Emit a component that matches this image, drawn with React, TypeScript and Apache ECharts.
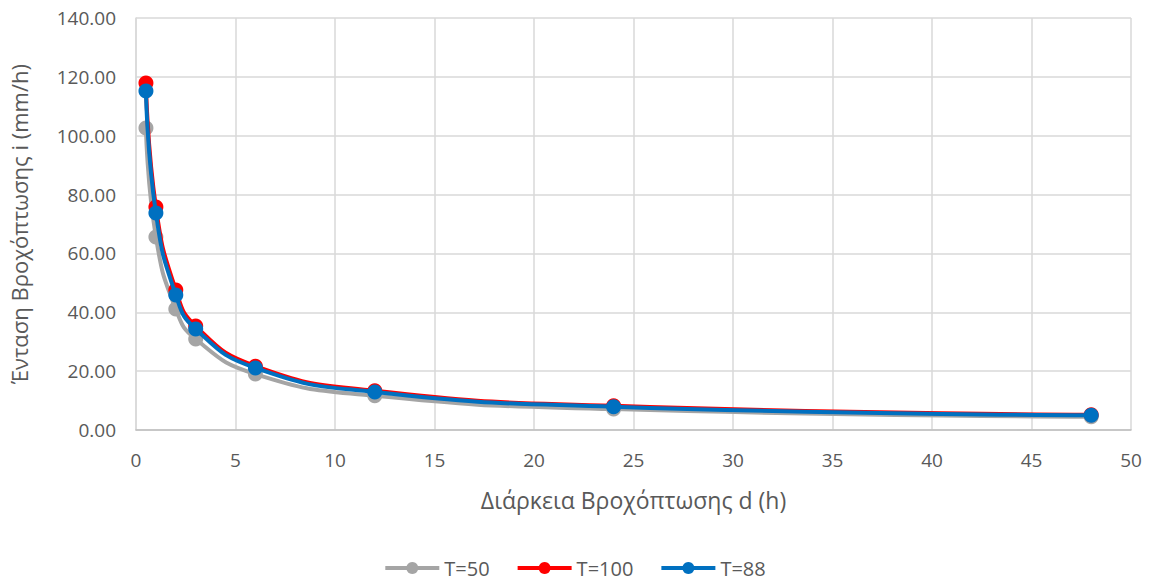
import React, { useEffect, useRef } from "react";
import * as echarts from "echarts";

// Rainfall duration d (h)
const durations = [0.5, 1, 2, 3, 6, 12, 24, 48];
// Rainfall intensity i (mm/h) per return period
const intensityT50 = [102.6, 65.6, 41.1, 30.9, 19.0, 11.6, 7.1, 4.5];
const intensityT100 = [117.9, 75.8, 47.6, 35.3, 21.7, 13.3, 8.2, 5.2];
const intensityT88 = [115.2, 73.7, 45.9, 34.3, 21.1, 12.9, 7.9, 5.0];

const seriesNames = ["T=50", "T=100", "T=88"];
const seriesColors = ["#A5A5A5", "#FF0000", "#0070C0"];

const FONT = "'Open Sans', 'Noto Sans', sans-serif";
const TEXT = "#595959";

export default function App() {
  const ref = useRef<HTMLDivElement>(null);

  useEffect(() => {
    if (!ref.current) return;
    const chart = echarts.init(ref.current, null, { renderer: "svg" });
    const values = [intensityT50, intensityT100, intensityT88];
    chart.setOption({
      animation: false,
      backgroundColor: "#FFFFFF",
      textStyle: { fontFamily: FONT },
      grid: { left: 132, right: 18, top: 18, bottom: 155, containLabel: false },
      legend: {
        bottom: 2,
        left: "center",
        itemWidth: 54,
        itemHeight: 15,
        itemGap: 26,
        lineStyle: { width: 4 },
        textStyle: { color: TEXT, fontSize: 20, fontFamily: FONT },
        data: seriesNames,
      },
      xAxis: {
        type: "value",
        min: 0,
        max: 50,
        interval: 5,
        name: "Διάρκεια Βροχόπτωσης d (h)",
        nameLocation: "middle",
        nameGap: 58,
        nameTextStyle: { color: TEXT, fontSize: 23, fontFamily: FONT },
        axisLine: { show: true, lineStyle: { color: "#BFBFBF", width: 1.5 } },
        axisTick: { show: false },
        axisLabel: { color: TEXT, fontSize: 19, margin: 20, fontFamily: FONT },
        splitLine: { show: true, lineStyle: { color: "#D9D9D9", width: 1.5 } },
      },
      yAxis: {
        type: "value",
        min: 0,
        max: 140,
        interval: 20,
        name: "Ένταση Βροχόπτωσης i (mm/h)",
        nameLocation: "middle",
        nameGap: 106,
        nameTextStyle: { color: TEXT, fontSize: 22, fontFamily: FONT },
        axisLine: { show: true, lineStyle: { color: "#D9D9D9", width: 1.5 } },
        axisTick: { show: false },
        axisLabel: {
          color: TEXT,
          fontSize: 19,
          margin: 20,
          fontFamily: FONT,
          formatter: (v: number) => v.toFixed(2),
        },
        splitLine: { show: true, lineStyle: { color: "#D9D9D9", width: 1.5 } },
      },
      series: seriesNames.map((name, k) => ({
        name,
        type: "line",
        smooth: 0.5,
        symbol: "circle",
        symbolSize: 15,
        data: durations.map((d, i) => [d, values[k][i]]),
        lineStyle: { color: seriesColors[k], width: 4 },
        itemStyle: { color: seriesColors[k] },
        z: 2 + k,
      })),
    });
    return () => chart.dispose();
  }, []);

  return (
    <div
      ref={ref}
      style={{ position: "absolute", left: 0, top: 0, width: 1149, height: 585 }}
    />
  );
}
